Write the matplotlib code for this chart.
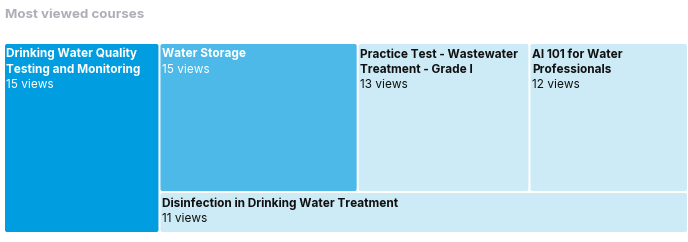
import matplotlib
matplotlib.use("Agg")
import matplotlib.pyplot as plt
from matplotlib.patches import FancyBboxPatch

# ── Данные ──────────────────────────────────────────────────────────────
courses = [
    "Drinking Water Quality Testing and Monitoring",
    "Water Storage",
    "Practice Test - Wastewater Treatment - Grade I",
    "AI 101 for Water Professionals",
    "Disinfection in Drinking Water Treatment",
]
views = [15, 15, 13, 12, 11]
colors = ["#009ee0", "#4db9e8", "#cdebf7", "#cdebf7", "#cdebf7"]
text_colors = ["white", "white", "#111111", "#111111", "#111111"]

W, H = 688, 242
X0, Y0, X1, Y1 = 5, 44, 689, 234
GAP = 2
FONT = "Inter"
FS = 8.5

fig = plt.figure(figsize=(W / 100, H / 100), dpi=100)
ax = fig.add_axes([0, 0, 1, 1])
ax.set_xlim(0, W)
ax.set_ylim(H, 0)
ax.axis("off")


def layout():
    """Колонка для первого курса, справа строка из трёх и нижняя строка."""
    total = sum(views)
    rects = []
    w0 = (X1 - X0) * views[0] / total
    rects.append((X0, Y0, w0, Y1 - Y0))
    rest = total - views[0]
    rx, rw = X0 + w0, X1 - X0 - w0
    top = views[1:4]
    h_top = (Y1 - Y0) * sum(top) / rest
    x = rx
    for v in top:
        w = rw * v / sum(top)
        rects.append((x, Y0, w, h_top))
        x += w
    rects.append((rx, Y0 + h_top, rw, Y1 - Y0 - h_top))
    return rects


renderer = fig.canvas.get_renderer()


def wrap(name, max_w):
    words = name.split()
    lines, cur = [], ""
    for word in words:
        trial = (cur + " " + word).strip()
        t = ax.text(0, 0, trial, fontsize=FS, fontweight="bold", family=FONT)
        wpx = t.get_window_extent(renderer).width
        t.remove()
        if wpx > max_w and cur:
            lines.append(cur)
            cur = word
        else:
            cur = trial
    lines.append(cur)
    return lines


for (x, y, w, h), name, v, c, tc in zip(layout(), courses, views, colors, text_colors):
    ax.add_patch(FancyBboxPatch(
        (x + 1, y + 1), w - GAP - 2, h - GAP - 2,
        boxstyle="round,pad=1,rounding_size=2",
        facecolor=c, edgecolor="none",
    ))
    lines = wrap(name, w - 6)
    ty = y + 13.5
    for line in lines:
        ax.text(x + 1.5, ty, line, fontsize=FS, fontweight="bold", family=FONT,
                color=tc, va="baseline", ha="left")
        ty += 15.3
    ax.text(x + 1.5, ty, f"{v} views", fontsize=FS, family=FONT,
            color=tc, va="baseline", ha="left")

ax.text(5, 15.5, "Most viewed courses", fontsize=9.6, fontweight="bold",
        family=FONT, color="#aeaeb8", va="center", ha="left")

fig.savefig("out.png", dpi=100)
